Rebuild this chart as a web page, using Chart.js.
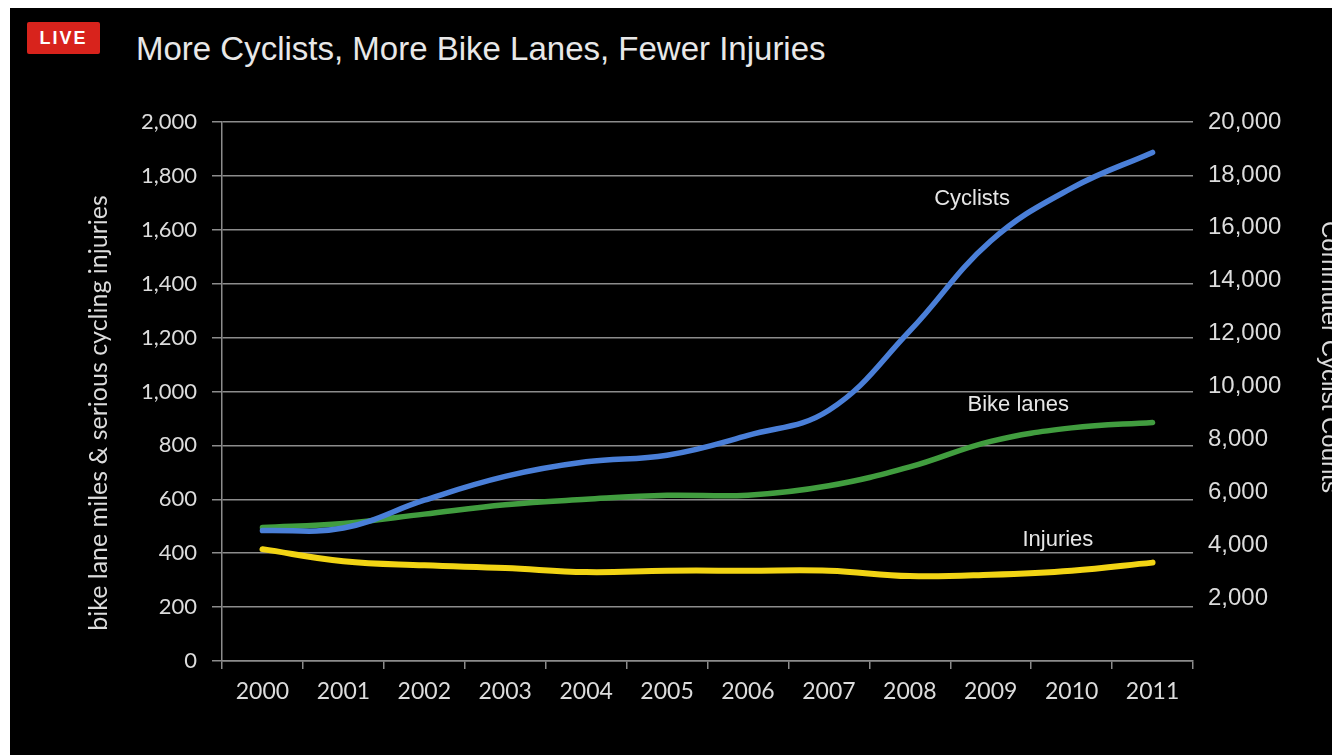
<!DOCTYPE html>
<html>
<head>
<meta charset="utf-8">
<script src="https://cdn.jsdelivr.net/npm/chart.js@4.4.1/dist/chart.umd.min.js"></script>
<style>
  html, body { margin: 0; padding: 0; background: #fff; overflow: hidden; width: 1332px; height: 755px; }
  #stage { position: absolute; left: 10px; top: 8px; width: 1345px; height: 747px; background: #000; }
  #live { position: absolute; left: 17px; top: 14px; width: 73px; height: 32px; background: #d8231c;
          border-radius: 2px; color: #fff; font: bold 18px "Liberation Sans", Arial, sans-serif;
          letter-spacing: 2px; text-align: center; line-height: 32px; }
  #title { position: absolute; left: 126px; top: 22px; color: #e8e8e8; line-height: 32px;
           font: 33px "Liberation Sans", Arial, sans-serif; white-space: nowrap; }
  canvas { position: absolute; left: 0; top: 0; }
</style>
</head>
<body>
<div id="stage">
  <div id="live">LIVE</div>
  <div id="title">More Cyclists, More Bike Lanes, Fewer Injuries</div>
  <canvas id="bikeChart" width="1345" height="747"></canvas>
</div>
<script>
// values
var years = ["2000", "2001", "2002", "2003", "2004", "2005", "2006", "2007", "2008", "2009", "2010", "2011"];
var cyclists = [4550, 4650, 5700, 6600, 7150, 7400, 8150, 9100, 12100, 15500, 17500, 18850];
var bikeLanes = [495, 510, 545, 580, 600, 615, 615, 650, 720, 815, 865, 885];
var injuries = [415, 370, 355, 345, 330, 335, 335, 335, 315, 320, 335, 365];

var leftTicks = [0, 200, 400, 600, 800, 1000, 1200, 1400, 1600, 1800, 2000];
var rightTicks = [2000, 4000, 6000, 8000, 10000, 12000, 14000, 16000, 18000, 20000];

var seriesNames = ["Cyclists", "Bike lanes", "Injuries"];
var leftTitle = "bike lane miles & serious cycling injuries";
var rightTitle = "Commuter Cyclist Counts";

var sansFont = "'Liberation Sans', Arial, sans-serif";
var softFont = "Lato, 'Open Sans', sans-serif";
var textColor = "#dcdcdc";
var gridColor = "#8c8c8c";

// series names next to the lines, and the two axis titles
var chartTexts = {
    id: "chartTexts",
    afterDatasetsDraw: function (chart) {
        var ctx = chart.ctx;
        var x = chart.scales.x;
        var y = chart.scales.y;
        var spots = [[8.77, 1715], [9.34, 950], [9.83, 449]];
        ctx.save();
        ctx.fillStyle = "#e6e6e6";
        ctx.font = "22px " + sansFont;
        ctx.textAlign = "center";
        ctx.textBaseline = "middle";
        for (var i = 0; i < seriesNames.length; i++) {
            ctx.fillText(seriesNames[i], x.getPixelForValue(spots[i][0]), y.getPixelForValue(spots[i][1]));
        }

        ctx.fillStyle = textColor;
        ctx.font = "25px " + softFont;
        ctx.save();
        ctx.translate(89, 405);
        ctx.rotate(-Math.PI / 2);
        ctx.fillText(leftTitle, 0, 0);
        ctx.restore();

        ctx.font = "24px " + sansFont;
        ctx.save();
        ctx.translate(1319, 349);
        ctx.rotate(Math.PI / 2);
        ctx.fillText(rightTitle, 0, 0);
        ctx.restore();
        ctx.restore();
    }
};

var bikeChart = new Chart("bikeChart", {
    type: "line",
    data: {
        labels: years,
        datasets: [
            {
                label: seriesNames[0],
                data: cyclists,
                yAxisID: "y2",
                borderColor: "#4a7fd8",
                borderWidth: 5.5
            },
            {
                label: seriesNames[1],
                data: bikeLanes,
                yAxisID: "y",
                borderColor: "#419d3f",
                borderWidth: 5.5
            },
            {
                label: seriesNames[2],
                data: injuries,
                yAxisID: "y",
                borderColor: "#f2d414",
                borderWidth: 6
            }
        ]
    },
    options: {
        responsive: false,
        animation: false,
        devicePixelRatio: 1,
        layout: { padding: { top: 114, left: 0, right: 0, bottom: 0 } },
        elements: {
            point: { radius: 0, hoverRadius: 0 },
            line: { tension: 0.4, borderCapStyle: "round", borderJoinStyle: "round" }
        },
        plugins: {
            legend: { display: false },
            tooltip: { enabled: false }
        },
        scales: {
            x: {
                offset: true,
                grid: { offset: true, drawOnChartArea: false, drawTicks: true, tickLength: 8, color: gridColor, lineWidth: 1.5 },
                border: { display: true, color: gridColor, width: 1.5 },
                ticks: { color: textColor, font: { family: softFont, size: 23 }, padding: 9, maxRotation: 0 },
                afterFit: function (scale) { scale.height = 94; }
            },
            y: {
                position: "left",
                min: 0,
                max: 2000,
                afterBuildTicks: function (scale) {
                    scale.ticks = leftTicks.map(function (v) { return { value: v }; });
                },
                grid: { color: gridColor, lineWidth: 1.5, tickLength: 10 },
                border: { display: true, color: gridColor, width: 1.5 },
                ticks: {
                    color: textColor, font: { family: softFont, size: 22 }, padding: 15,
                    callback: function (v) { return v.toLocaleString("en-US"); }
                },
                afterFit: function (scale) { scale.width = 212; }
            },
            y2: {
                position: "right",
                min: -380,
                max: 20000,
                afterBuildTicks: function (scale) {
                    scale.ticks = rightTicks.map(function (v) { return { value: v }; });
                },
                grid: { drawOnChartArea: false, drawTicks: false },
                border: { display: false },
                ticks: {
                    color: textColor, font: { family: sansFont, size: 24 }, padding: 15,
                    callback: function (v) { return v.toLocaleString("en-US"); }
                },
                afterFit: function (scale) { scale.width = 162; }
            }
        }
    },
    plugins: [chartTexts]
});
</script>
</body>
</html>
